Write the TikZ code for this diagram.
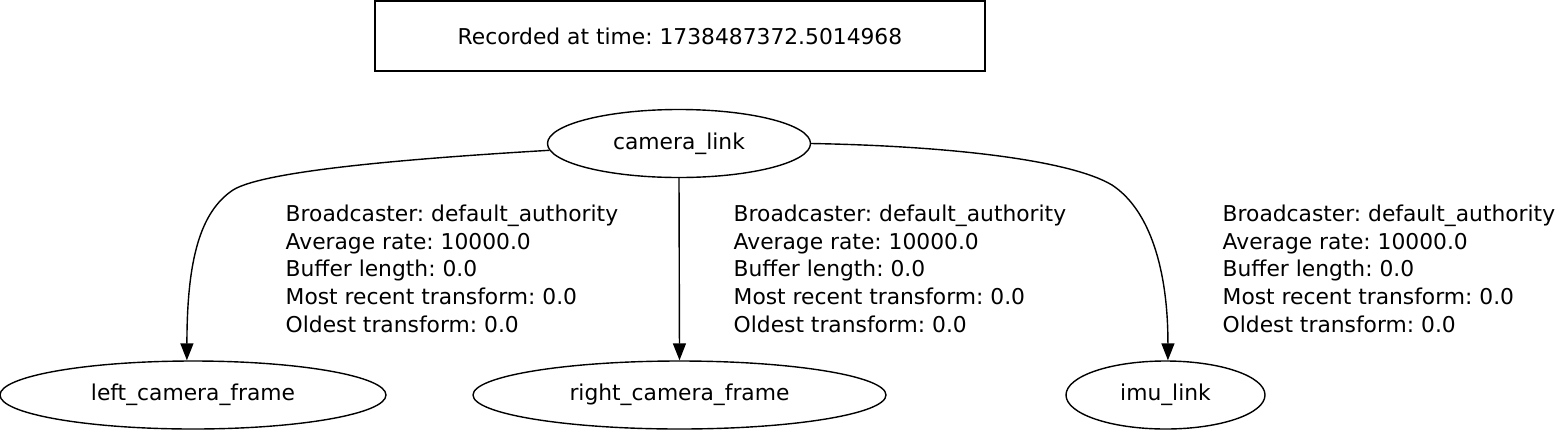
\documentclass[tikz,border=0pt]{standalone}
\usepackage{fontspec}
\setmainfont{DejaVu Sans}
\usetikzlibrary{arrows.meta,shapes.geometric}
\frenchspacing

\begin{document}
\begin{tikzpicture}[x=1pt, y=-1pt, line width=1.4pt,
    >={Triangle[length=17pt, width=13pt]},
    font=\fontsize{21.8}{27.75}\selectfont,
    frame/.style={draw, ellipse, inner sep=0pt, minimum height=68pt},
    info/.style={anchor=north west, inner sep=0pt, align=left}]
    \useasboundingbox (0,0) rectangle (1557,432);
    \node[draw, inner sep=0pt, minimum width=610pt, minimum height=70pt] (stamp) at (680,36) {Recorded at time: 1738487372.5014968};
    \node[frame, minimum width=263pt] (cam) at (679,143.5) {camera\_link};
    \node[frame, minimum width=386pt] (left) at (193,395) {left\_camera\_frame};
    \node[frame, minimum width=413pt] (right) at (679.5,395) {right\_camera\_frame};
    \node[frame, minimum width=199pt] (imu) at (1165.5,395) {imu\_link};
    % transform info
    \node[info] (infoleft) at (285,204) {Broadcaster: default\_authority\\Average rate: 10000.0\\Buffer length: 0.0\\Most recent transform: 0.0\\Oldest transform: 0.0};
    \node[info] (inforight) at (733,204) {Broadcaster: default\_authority\\Average rate: 10000.0\\Buffer length: 0.0\\Most recent transform: 0.0\\Oldest transform: 0.0};
    \node[info] (infoimu) at (1222,204) {Broadcaster: default\_authority\\Average rate: 10000.0\\Buffer length: 0.0\\Most recent transform: 0.0\\Oldest transform: 0.0};
    % edges
    \draw[->] (cam.183) .. controls (420,158) and (265,170) .. (233,190) .. controls (200,212) and (187,260) .. (left.100);
    \draw[->] (cam.south) -- (right.north);
    \draw[->] (cam.east) .. controls (950,146) and (1070,160) .. (1112,185) .. controls (1150,210) and (1168,270) .. (imu.86);
  \end{tikzpicture}
\end{document}
